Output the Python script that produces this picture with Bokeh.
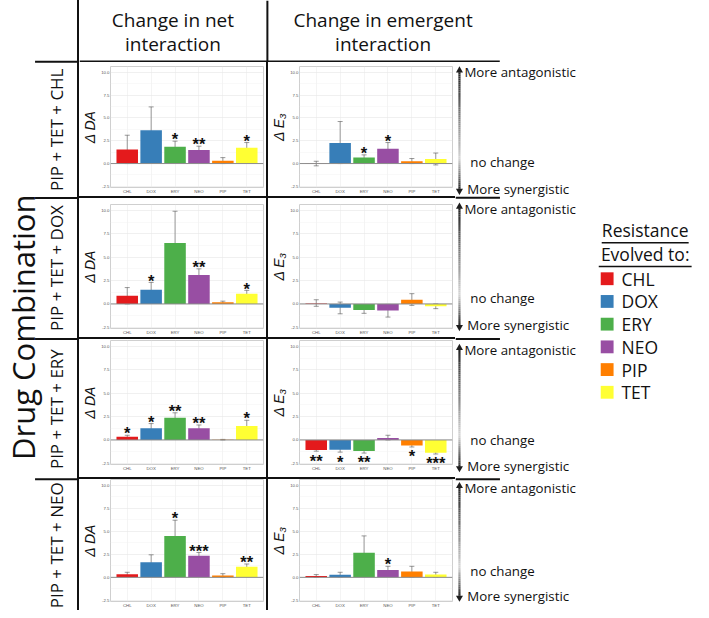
import numpy as np
from bokeh.plotting import figure
from bokeh.models import (Range1d, FactorRange, FixedTicker, PrintfTickFormatter, Span,
                          Whisker, TeeHead, ColumnDataSource, Div)
from bokeh.layouts import row, column
from bokeh.embed import file_html
from bokeh.resources import INLINE
from bokeh.core.properties import value

# ---------------- data ----------------
categories = ["CHL", "DOX", "ERY", "NEO", "PIP", "TET"]
bar_colors = ["#e41a1c", "#377eb8", "#4daf4a", "#984ea3", "#ff7f00", "#ffff33"]
combinations = ["PIP + TET + CHL", "PIP + TET + DOX", "PIP + TET + ERY", "PIP + TET + NEO"]
y_tick_values = [-2.5, 0.0, 2.5, 5.0, 7.5, 10.0]
net_title = ["Change in net", "interaction"]
emergent_title = ["Change in emergent", "interaction"]
direction_labels = ["More antagonistic", "no change", "More synergistic"]
legend_title = ["Resistance", "Evolved to:"]
y_label_net = "\u0394 DA"
y_label_emergent = "\u0394 E\u2083"

# PIP + TET + CHL
net_chl_mean = [1.53, 3.65, 1.84, 1.49, 0.31, 1.74]
net_chl_low = [0.00, 1.20, 1.30, 1.20, 0.00, 1.25]
net_chl_high = [3.10, 6.20, 2.45, 1.90, 0.65, 2.30]
net_chl_stars = ["", "", "*", "**", "", "*"]
emg_chl_mean = [0.03, 2.26, 0.66, 1.63, 0.24, 0.49]
emg_chl_low = [-0.25, 0.00, 0.50, 1.00, 0.00, -0.15]
emg_chl_high = [0.25, 4.60, 0.95, 2.30, 0.55, 1.15]
emg_chl_stars = ["", "", "*", "*", "", ""]

# PIP + TET + DOX
net_dox_mean = [0.87, 1.53, 6.52, 3.10, 0.17, 1.08]
net_dox_low = [0.00, 0.95, 3.25, 2.50, 0.05, 0.80]
net_dox_high = [1.75, 2.30, 9.90, 3.75, 0.30, 1.45]
net_dox_stars = ["", "*", "", "**", "", "*"]
emg_dox_mean = [0.05, -0.40, -0.65, -0.70, 0.45, -0.25]
emg_dox_low = [-0.25, -1.05, -1.00, -1.40, -0.15, -0.50]
emg_dox_high = [0.45, 0.20, -0.25, -0.05, 1.10, 0.00]
emg_dox_stars = ["", "", "", "", "", ""]

# PIP + TET + ERY
net_ery_mean = [0.35, 1.25, 2.37, 1.25, 0.03, 1.50]
net_ery_low = [0.20, 0.80, 2.00, 1.00, 0.00, 0.90]
net_ery_high = [0.50, 1.75, 2.90, 1.60, 0.06, 2.10]
net_ery_stars = ["*", "*", "**", "**", "", "*"]
emg_ery_mean = [-1.08, -1.04, -1.18, 0.20, -0.60, -1.36]
emg_ery_low = [-1.20, -1.30, -1.40, 0.00, -0.75, -1.50]
emg_ery_high = [-0.90, -0.70, -0.95, 0.50, -0.40, -1.25]
emg_ery_stars = ["**", "*", "**", "", "*", "***"]

# PIP + TET + NEO
net_neo_mean = [0.35, 1.64, 4.50, 2.34, 0.20, 1.15]
net_neo_low = [0.20, 0.85, 2.85, 1.95, 0.00, 0.80]
net_neo_high = [0.55, 2.45, 6.20, 2.70, 0.40, 1.45]
net_neo_stars = ["", "", "*", "***", "", "**"]
emg_neo_mean = [0.14, 0.28, 2.68, 0.80, 0.63, 0.31]
emg_neo_low = [0.00, 0.05, 0.95, 0.50, 0.05, 0.05]
emg_neo_high = [0.30, 0.55, 4.50, 1.20, 1.20, 0.55]
emg_neo_stars = ["", "", "", "*", "", ""]

# ---------------- style ----------------
FONT = "Open Sans"
INK = "#111111"
PANEL_W = 187


def blank(width, height, xr, yr):
    p = figure(width=width, height=height, x_range=Range1d(*xr), y_range=Range1d(*yr),
               output_backend="svg", toolbar_location=None, min_border=0,
               x_axis_location=None, y_axis_location=None, outline_line_color=None,
               background_fill_color="white", border_fill_color="white")
    p.grid.grid_line_color = None
    return p


def line_div(w, h):
    return Div(text="", width=w, height=h, margin=0, styles={"background-color": INK})


def make_panel(mean, low, high, stars, ylabel, height, top, bottom):
    star_y = [hi + 0.2 if m >= 0 else lo - 1.0 for m, lo, hi in zip(mean, low, high)]
    src = ColumnDataSource(dict(cat=categories, mean=mean, low=low, high=high,
                                color=bar_colors, stars=stars, star_y=star_y))
    p = figure(width=PANEL_W, height=height,
               x_range=FactorRange(factors=categories, range_padding=0.2,
                                   range_padding_units="absolute"),
               y_range=Range1d(-2.62, 10.62), output_backend="svg", toolbar_location=None,
               min_border_left=24, min_border_right=3, min_border_top=top,
               min_border_bottom=bottom, background_fill_color="white",
               border_fill_color="white", outline_line_color="#cfcfcf")
    for ax in (p.xaxis, p.yaxis):
        ax.axis_line_color = None
        ax.major_tick_line_color = None
        ax.minor_tick_line_color = None
        ax.major_tick_out = 0
        ax.major_tick_in = 0
        ax.minor_tick_out = 0
        ax.major_label_text_font_size = "4.3px"
        ax.major_label_text_color = "#555555"
        ax.major_label_text_font = "Liberation Sans"
        ax.major_label_standoff = 1
    p.yaxis.ticker = FixedTicker(ticks=y_tick_values,
                                 minor_ticks=[-1.25, 1.25, 3.75, 6.25, 8.75])
    p.yaxis.formatter = PrintfTickFormatter(format="%.1f")
    p.yaxis.axis_label = ylabel
    p.yaxis.axis_label_text_font = "Liberation Sans"
    p.yaxis.axis_label_text_font_size = "14px"
    p.yaxis.axis_label_text_font_style = "italic"
    p.yaxis.axis_label_text_color = "#111111"
    p.yaxis.axis_label_standoff = 0
    p.xgrid.grid_line_color = "#ececec"
    p.xgrid.grid_line_width = 0.6
    p.ygrid.grid_line_color = "#e6e6e6"
    p.ygrid.grid_line_width = 0.6
    p.ygrid.minor_grid_line_color = "#f3f3f3"
    p.ygrid.minor_grid_line_width = 0.5
    p.vbar(x="cat", top="mean", bottom=0, width=0.9, fill_color="color",
           line_color=None, source=src)
    p.add_layout(Span(location=0, dimension="width", line_color="#8c8c8c", line_width=1))
    head = dict(size=5, line_color="#555555", line_alpha=0.75, line_width=0.8)
    p.add_layout(Whisker(source=src, base="cat", upper="high", lower="low",
                         line_color="#555555", line_alpha=0.75, line_width=0.8,
                         upper_head=TeeHead(**head), lower_head=TeeHead(**head)))
    p.text(x="cat", y="star_y", text="stars", source=src, text_font_size="16.5px",
           text_font_style="bold", text_align="center", text_baseline="middle",
           text_color="#111111", text_font=value("Liberation Sans"))
    return p


net_rows = [
    (net_chl_mean, net_chl_low, net_chl_high, net_chl_stars),
    (net_dox_mean, net_dox_low, net_dox_high, net_dox_stars),
    (net_ery_mean, net_ery_low, net_ery_high, net_ery_stars),
    (net_neo_mean, net_neo_low, net_neo_high, net_neo_stars),
]
emg_rows = [
    (emg_chl_mean, emg_chl_low, emg_chl_high, emg_chl_stars),
    (emg_dox_mean, emg_dox_low, emg_dox_high, emg_dox_stars),
    (emg_ery_mean, emg_ery_low, emg_ery_high, emg_ery_stars),
    (emg_neo_mean, emg_neo_low, emg_neo_high, emg_neo_stars),
]
row_heights = [134, 139, 138, 131]
row_tops = [4, 6, 1, 0]
row_bottoms = [7, 9, 13, 7]


def build_column(rows, ylabel):
    items = []
    for i, (m, lo, hi, st) in enumerate(rows):
        if i > 0:
            items.append(line_div(PANEL_W, 2))
        items.append(make_panel(m, lo, hi, st, ylabel, row_heights[i], row_tops[i], row_bottoms[i]))
    return column(*items, spacing=0)


col_net = build_column(net_rows, y_label_net)
col_emg = build_column(emg_rows, y_label_emergent)

# ---------------- header ----------------
head = blank(622, 62, (80, 709), (63, 0))
head.text(x=[174.5, 174.5], y=[20, 44], text=net_title, text_font=value(FONT),
          text_font_size="19px", text_align="center", text_baseline="middle",
          text_color=INK)
head.text(x=[387, 387], y=[20, 44], text=emergent_title, text_font=value(FONT),
          text_font_size="19px", text_align="center", text_baseline="middle",
          text_color=INK)
head.segment(x0=[270, 80], y0=[0, 62], x1=[270, 505], y1=[63, 62],
             line_color=INK, line_width=2)

# ---------------- left column ----------------
left = blank(77, 610, (0, 78), (618, 0))
left.text(x=[23], y=[331], text=["Drug Combination"], angle=np.pi / 2,
          text_font=value(FONT), text_font_size="31px", text_align="center",
          text_baseline="middle", text_color=INK)
left.text(x=[57] * 4, y=[131, 271, 414, 552], text=combinations, angle=np.pi / 2,
          text_font=value(FONT), text_font_size="17px", text_align="center",
          text_baseline="middle", text_color=INK)
left.segment(x0=[35] * 4, y0=[62, 200, 343, 485], x1=[78] * 4, y1=[62, 200, 343, 485],
             line_color=INK, line_width=2)

# ---------------- right column ----------------
right = blank(246, 548, (460, 709), (618, 63))
right.segment(x0=[460] * 3, y0=[200, 343, 485], x1=[505] * 3, y1=[200, 343, 485],
              line_color=INK, line_width=2)
ma_y = [73, 211, 354, 494]
nc_y = [164, 302, 445, 578]
ms_y = [191, 329, 472, 603]
ax_x = 464
for a, n, s in zip(ma_y, nc_y, ms_y):
    top, bot = a - 2, s + 2
    ys = np.linspace(top, bot, 60)
    mids = (ys[:-1] + ys[1:]) / 2
    cols = []
    for ym in mids:
        t = (ym - top) / (bot - top)
        tl = (n - 4 - top) / (bot - top)
        if t < tl:
            g = 0.12 + 0.72 * (t / tl)
        else:
            g = 0.84 - 0.72 * ((t - tl) / (1 - tl))
        v = int(255 * g)
        cols.append("#%02x%02x%02x" % (v, v, v))
    right.segment(x0=[ax_x] * len(mids), y0=list(ys[:-1]), x1=[ax_x] * len(mids),
                  y1=list(ys[1:]), line_color=cols, line_width=2.2)
    right.scatter(x=[ax_x], y=[top], marker="triangle", size=7, fill_color="#1e1e1e",
                  line_color=None)
    right.scatter(x=[ax_x], y=[bot], marker="inverted_triangle", size=7,
                  fill_color="#1e1e1e", line_color=None)
    right.text(x=[469, 475, 472], y=[a, n, s], text=direction_labels,
               text_font=value(FONT), text_font_size="13.3px", text_align="left",
               text_baseline="middle", text_color=INK)

right.text(x=[652, 652], y=[233, 257], text=legend_title, text_font=value(FONT),
           text_font_size="17.5px", text_align="center", text_baseline="middle",
           text_color=INK)
right.segment(x0=[608, 605], y0=[245.5, 269.5], x1=[696, 699], y1=[245.5, 269.5],
              line_color=INK, line_width=1.5)
legend_y = [282 + 23 * i for i in range(len(categories))]
right.rect(x=[613.5] * len(categories), y=legend_y, width=13, height=13,
           fill_color=bar_colors, line_color=None)
right.text(x=[628] * len(categories), y=legend_y, text=categories, text_font=value(FONT),
           text_font_size="17.5px", text_align="left", text_baseline="middle",
           text_color=INK)

# ---------------- assemble ----------------
mid = row(col_net, line_div(2, 548), col_emg, right, spacing=0)
rightside = column(head, mid, spacing=0)
layout = row(left, line_div(2, 610), rightside, spacing=0)

open("out.html", "w").write(file_html(layout, INLINE, title="Drug combination"))
